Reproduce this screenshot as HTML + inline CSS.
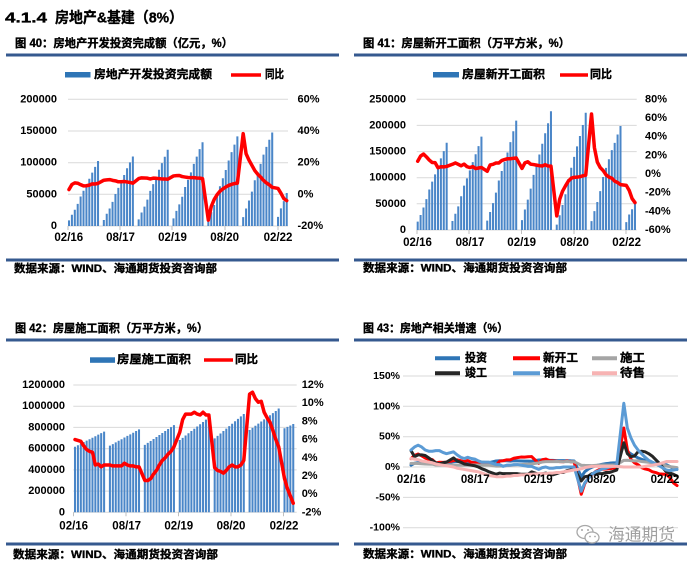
<!DOCTYPE html>
<html><head><meta charset="utf-8">
<style>
html,body{margin:0;padding:0;background:#fff;overflow:hidden;}
svg{display:block;}
text{font-family:"Liberation Sans","Noto Sans CJK SC",sans-serif;font-weight:bold;fill:#000;dominant-baseline:central;}
.b{stroke:#000;stroke-width:0.35px;}
.ax{font-size:11px;}
.ax4{font-size:10.5px;}
.xl{font-size:11.5px;text-anchor:middle;}
.e{text-anchor:end;}
</style></head><body>
<svg width="697" height="571" viewBox="0 0 697 571" xmlns="http://www.w3.org/2000/svg">
<rect width="697" height="571" fill="#fff"/>

<!-- header -->
<text x="5" y="18" font-size="15" textLength="42" lengthAdjust="spacingAndGlyphs" class="b">4.1.4</text>
<text x="55" y="18" font-size="15" textLength="128" lengthAdjust="spacingAndGlyphs" class="b">房地产&amp;基建（8%）</text>

<!-- subtitles -->
<text x="15" y="44" font-size="11.5" textLength="218" lengthAdjust="spacingAndGlyphs" class="b">图 40：房地产开发投资完成额（亿元，%）</text>
<text x="363" y="44" font-size="11.5" textLength="207" lengthAdjust="spacingAndGlyphs" class="b">图 41：房屋新开工面积（万平方米，%）</text>
<text x="15" y="329" font-size="11.5" textLength="193" lengthAdjust="spacingAndGlyphs" class="b">图 42：房屋施工面积（万平方米，%）</text>
<text x="363" y="329" font-size="11.5" textLength="145" lengthAdjust="spacingAndGlyphs" class="b">图 43：房地产相关增速（%）</text>

<!-- rules -->
<g fill="#35598f">
<rect x="6" y="53.5" width="333" height="3"/>
<rect x="354" y="53.5" width="333" height="3"/>
<rect x="6" y="258.5" width="333" height="3"/>
<rect x="354" y="258.5" width="333" height="3"/>
<rect x="6" y="338.5" width="333" height="3"/>
<rect x="354" y="338.5" width="333" height="3"/>
<rect x="6" y="542.5" width="333" height="3"/>
<rect x="354" y="542.5" width="333" height="3"/>
</g>

<!-- sources -->
<text x="14" y="269" font-size="11" textLength="203" lengthAdjust="spacingAndGlyphs" class="b">数据来源：WIND、海通期货投资咨询部</text>
<text x="363" y="268.5" font-size="11" textLength="204" lengthAdjust="spacingAndGlyphs" class="b">数据来源：WIND、海通期货投资咨询部</text>
<text x="13" y="555" font-size="11" textLength="205" lengthAdjust="spacingAndGlyphs" class="b">数据来源：WIND、海通期货投资咨询部</text>
<text x="363" y="554.5" font-size="11" textLength="204" lengthAdjust="spacingAndGlyphs" class="b">数据来源：WIND、海通期货投资咨询部</text>

<!-- gridlines -->
<g stroke="#d9d9d9" stroke-width="1">
<line x1="68" x2="288" y1="99.3" y2="99.3"/><line x1="68" x2="288" y1="131" y2="131"/><line x1="68" x2="288" y1="162.7" y2="162.7"/><line x1="68" x2="288" y1="194.3" y2="194.3"/><line x1="68" x2="288" y1="226" y2="226"/>
<line x1="416.7" x2="636.7" y1="99.3" y2="99.3"/><line x1="416.7" x2="636.7" y1="125.4" y2="125.4"/><line x1="416.7" x2="636.7" y1="151.6" y2="151.6"/><line x1="416.7" x2="636.7" y1="177.7" y2="177.7"/><line x1="416.7" x2="636.7" y1="203.8" y2="203.8"/><line x1="416.7" x2="636.7" y1="230" y2="230"/>
<line x1="73.3" x2="296.7" y1="385" y2="385"/><line x1="73.3" x2="296.7" y1="406.2" y2="406.2"/><line x1="73.3" x2="296.7" y1="427.4" y2="427.4"/><line x1="73.3" x2="296.7" y1="448.7" y2="448.7"/><line x1="73.3" x2="296.7" y1="469.9" y2="469.9"/><line x1="73.3" x2="296.7" y1="491.1" y2="491.1"/><line x1="73.3" x2="296.7" y1="512.3" y2="512.3"/>
<line x1="403" x2="678" y1="376" y2="376"/><line x1="403" x2="678" y1="406.3" y2="406.3"/><line x1="403" x2="678" y1="436.7" y2="436.7"/><line x1="403" x2="678" y1="467" y2="467"/><line x1="403" x2="678" y1="497.4" y2="497.4"/><line x1="403" x2="678" y1="527.7" y2="527.7"/>
</g>
<g stroke="#bfbfbf" stroke-width="1">
<line x1="68" x2="68" y1="226" y2="230"/><line x1="120" x2="120" y1="226" y2="230"/><line x1="172" x2="172" y1="226" y2="230"/><line x1="225" x2="225" y1="226" y2="230"/><line x1="278" x2="278" y1="226" y2="230"/>
<line x1="417" x2="417" y1="230" y2="234"/><line x1="469" x2="469" y1="230" y2="234"/><line x1="521.5" x2="521.5" y1="230" y2="234"/><line x1="574" x2="574" y1="230" y2="234"/><line x1="626" x2="626" y1="230" y2="234"/>
<line x1="73.5" x2="73.5" y1="512.3" y2="516.3"/><line x1="126" x2="126" y1="512.3" y2="516.3"/><line x1="178.5" x2="178.5" y1="512.3" y2="516.3"/><line x1="231" x2="231" y1="512.3" y2="516.3"/><line x1="283.5" x2="283.5" y1="512.3" y2="516.3"/>
</g>

<!-- Chart 1 bars -->
<path fill="#4a86c8" transform="translate(69,226) scale(2.903,-0.6334)" d="M-.35 0v8.8h.7V0zm1 0v17.7h.7V0zm1 0v25.6h.7V0zm1 0v34.9h.7V0zm1 0v46.6h.7V0zm1 0v55.6h.7V0zm1 0v65.1h.7V0zm1 0v74.6h.7V0zm1 0v84.3h.7V0zm1 0v93.4h.7V0zm1 0v102.6h.7V0zm2 0
v9.5h.7V0zm1 0v19.3h.7V0zm1 0v27.7h.7V0zm1 0v38h.7V0zm1 0v50.6h.7V0zm1 0v60.2h.7V0zm1 0v70.7h.7V0zm1 0v80.6h.7V0zm1 0v91.1h.7V0zm1 0v100.4h.7V0zm1 0v109.8h.7V0zm2 0
v10.4h.7V0zm1 0v21.3h.7V0zm1 0v30.6h.7V0zm1 0v41.7h.7V0zm1 0v55.5h.7V0zm1 0v66.1h.7V0zm1 0v77.7h.7V0zm1 0v88.9h.7V0zm1 0v99.3h.7V0zm1 0v109.4h.7V0zm1 0v120.3h.7V0zm2 0
v12.1h.7V0zm1 0v23.8h.7V0zm1 0v34.2h.7V0zm1 0v46.1h.7V0zm1 0v61.6h.7V0zm1 0v72.8h.7V0zm1 0v84.6h.7V0zm1 0v98h.7V0zm1 0v109.6h.7V0zm1 0v121.3h.7V0zm1 0v132.2h.7V0zm2 0
v10.1h.7V0zm1 0v22h.7V0zm1 0v33.1h.7V0zm1 0v45.9h.7V0zm1 0v62.8h.7V0zm1 0v75.3h.7V0zm1 0v88.5h.7V0zm1 0v103.5h.7V0zm1 0v116.6h.7V0zm1 0v128.5h.7V0zm1 0v141.4h.7V0zm2 0
v14h.7V0zm1 0v27.6h.7V0zm1 0v40.2h.7V0zm1 0v54.3h.7V0zm1 0v72.2h.7V0zm1 0v84.9h.7V0zm1 0v98.1h.7V0zm1 0v112.6h.7V0zm1 0v124.9h.7V0zm1 0v136.2h.7V0zm1 0v147.6h.7V0zm2 0
v14.5h.7V0zm1 0v27.8h.7V0zm1 0v39.2h.7V0zm1 0v52.1h.7V0z"/>

<!-- Chart 2 bars -->
<path fill="#4a86c8" transform="translate(417.7,230) scale(2.897,-0.5226)" d="M-.35 0v16h.7V0zm1 0v28.8h.7V0zm1 0v43.1h.7V0zm1 0v59.1h.7V0zm1 0v77.4h.7V0zm1 0v92.5h.7V0zm1 0v106.4h.7V0zm1 0v120.1h.7V0zm1 0v137h.7V0zm1 0v150.9h.7V0zm1 0v166.9h.7V0zm2 0
v17.2h.7V0zm1 0v31.1h.7V0zm1 0v45.3h.7V0zm1 0v64.7h.7V0zm1 0v84.9h.7V0zm1 0v98.8h.7V0zm1 0v114.1h.7V0zm1 0v129.9h.7V0zm1 0v145h.7V0zm1 0v160.4h.7V0zm1 0v178.7h.7V0zm2 0
v18h.7V0zm1 0v34.5h.7V0zm1 0v51.5h.7V0zm1 0v71.5h.7V0zm1 0v94.7h.7V0zm1 0v113h.7V0zm1 0v130.4h.7V0zm1 0v148.4h.7V0zm1 0v168.1h.7V0zm1 0v188.9h.7V0zm1 0v209.3h.7V0zm2 0
v18.8h.7V0zm1 0v39.2h.7V0zm1 0v58.2h.7V0zm1 0v79.1h.7V0zm1 0v105.5h.7V0zm1 0v123.2h.7V0zm1 0v144.4h.7V0zm1 0v165h.7V0zm1 0v185.1h.7V0zm1 0v204.2h.7V0zm1 0v227.2h.7V0zm2 0
v10.4h.7V0zm1 0v28.2h.7V0zm1 0v47.8h.7V0zm1 0v68.5h.7V0zm1 0v97.5h.7V0zm1 0v119.2h.7V0zm1 0v139.9h.7V0zm1 0v160.1h.7V0zm1 0v179.8h.7V0zm1 0v201h.7V0zm1 0v224.4h.7V0zm2 0
v17.1h.7V0zm1 0v36.2h.7V0zm1 0v53.5h.7V0zm1 0v74.3h.7V0zm1 0v101.3h.7V0zm1 0v118.9h.7V0zm1 0v135.5h.7V0zm1 0v152.9h.7V0zm1 0v166.7h.7V0zm1 0v182.8h.7V0zm1 0v198.9h.7V0zm2 0
v15h.7V0zm1 0v29.6h.7V0zm1 0v39.7h.7V0zm1 0v51.6h.7V0z"/>

<!-- Chart 3 bars -->
<path fill="#4a86c8" transform="translate(75,512.3) scale(2.91,-0.1061)" d="M-.35 0v618h.7V0zm1 0v632h.7V0zm1 0v646h.7V0zm1 0v661h.7V0zm1 0v675h.7V0zm1 0v689h.7V0zm1 0v703h.7V0zm1 0v717h.7V0zm1 0v732h.7V0zm1 0v746h.7V0zm1 0v760h.7V0zm2 0
v628h.7V0zm1 0v643h.7V0zm1 0v659h.7V0zm1 0v674h.7V0zm1 0v689h.7V0zm1 0v705h.7V0zm1 0v720h.7V0zm1 0v735h.7V0zm1 0v750h.7V0zm1 0v766h.7V0zm1 0v781h.7V0zm2 0
v635h.7V0zm1 0v654h.7V0zm1 0v672h.7V0zm1 0v691h.7V0zm1 0v710h.7V0zm1 0v729h.7V0zm1 0v747h.7V0zm1 0v766h.7V0zm1 0v785h.7V0zm1 0v803h.7V0zm1 0v822h.7V0zm2 0
v681h.7V0zm1 0v702h.7V0zm1 0v724h.7V0zm1 0v745h.7V0zm1 0v766h.7V0zm1 0v788h.7V0zm1 0v809h.7V0zm1 0v830h.7V0zm1 0v851h.7V0zm1 0v873h.7V0zm1 0v894h.7V0zm2 0
v697h.7V0zm1 0v720h.7V0zm1 0v743h.7V0zm1 0v766h.7V0zm1 0v789h.7V0zm1 0v812h.7V0zm1 0v835h.7V0zm1 0v858h.7V0zm1 0v881h.7V0zm1 0v904h.7V0zm1 0v927h.7V0zm2 0
v776h.7V0zm1 0v796h.7V0zm1 0v816h.7V0zm1 0v836h.7V0zm1 0v856h.7V0zm1 0v876h.7V0zm1 0v895h.7V0zm1 0v915h.7V0zm1 0v935h.7V0zm1 0v955h.7V0zm1 0v978h.7V0zm2 0
v792h.7V0zm1 0v805h.7V0zm1 0v818h.7V0zm1 0v832h.7V0z"/>

<!-- Chart 1 line -->
<path fill="none" stroke="#ff0000" stroke-width="3.5" stroke-linejoin="round" stroke-linecap="round" vector-effect="non-scaling-stroke" transform="translate(69,194.3) scale(2.903,-1.5835)" d="M0 3L1 6.2L2 7.2L3 7L4 6.1L5 5.3L6 5.4L7 5.8L8 6.6L9 6.5L10 6.9L12 8.9L13 9.1L14 9.3L15 8.8L16 8.5L17 7.9L18 7.9L19 8.1L20 7.8L21 7.5L22 7L24 9.9L25 10.4L26 10.3L27 10.2L28 9.7L29 10.2L30 10.1L31 9.9L32 9.7L33 9.7L34 9.5L36 11.6L37 11.8L38 11.9L39 11.2L40 10.9L41 10.6L42 10.5L43 10.5L44 10.3L45 10.2L46 9.9L48 -16.3L49 -7.7L50 -3.3L51 -0.3L52 1.9L53 3.4L54 4.6L55 5.6L56 6.3L57 6.8L58 7L60 38.3L61 25.6L62 21.6L63 18.3L64 15L65 12.7L66 10.9L67 8.8L68 7.2L69 6L70 4.4L72 3.7L73 0.7L74 -2.7L75 -4"/>

<!-- Chart 2 line -->
<path fill="none" stroke="#ff0000" stroke-width="3.5" stroke-linejoin="round" stroke-linecap="round" vector-effect="non-scaling-stroke" transform="translate(417.7,174) scale(2.897,-0.9336)" d="M0 13.7L1 19.2L2 21.4L3 18.4L4 14.9L5 12.3L6 12.2L7 6.7L8 7.8L9 7.6L10 8.1L12 10.4L13 11.9L14 10.4L15 8.8L16 10.6L17 7.9L18 6.9L19 7.9L20 5.8L21 6.4L22 7L24 2.9L25 9.7L26 10.4L27 11.8L28 11.8L29 14.4L30 15.5L31 16.4L32 16.3L33 16.8L34 17.2L36 6L37 11.9L38 13.1L39 10.5L40 10.1L41 9.5L42 8.9L43 8.6L44 10L45 8.6L46 8.5L48 -44.9L49 -27.2L50 -18.4L51 -12.8L52 -7.6L53 -4.5L54 -3.6L55 -3.4L56 -2.9L57 -1.9L58 -1.2L60 64.3L61 28.2L62 12.8L63 6.9L64 3.8L65 -0.9L66 -3.2L67 -4.5L68 -7.7L69 -9.1L70 -11.4L72 -12.2L73 -17.5L74 -26.3L75 -30.6"/>

<!-- Chart 3 line -->
<path fill="none" stroke="#ff0000" stroke-width="3.5" stroke-linejoin="round" stroke-linecap="round" vector-effect="non-scaling-stroke" transform="translate(75,494.1) scale(2.91,-9.095)" d="M0 6L1 5.9L2 5.8L3 5.3L4 4.9L5 4.7L6 4.6L7 3.2L8 3.3L9 3L10 3.2L12 3.2L13 3.1L14 3.1L15 3.1L16 3.1L17 3.4L18 3.2L19 3.1L20 3.1L21 3L22 3L24 1.5L25 1.5L26 1.7L27 2.2L28 2.6L29 3.2L30 3.7L31 4L32 4.4L33 4.7L34 5.2L36 6.8L37 8.2L38 8.8L39 8.8L40 8.8L41 9L42 8.8L43 8.7L44 9L45 8.7L46 8.7L48 2.9L49 2.6L50 2.5L51 2.3L52 2.6L53 3L54 3.2L55 3L56 3L57 3.2L58 3.7L60 11L61 11.2L62 10.5L63 10.1L64 10.2L65 9L66 8.4L67 7.9L68 7L69 6L70 5.2L72 1.7L73 0.6L74 -0.2L75 -1"/>

<!-- Chart 4 lines -->
<g fill="none" stroke-width="3" stroke-linejoin="round" stroke-linecap="round">
<path stroke="#2e75b6" vector-effect="non-scaling-stroke" transform="translate(411,467) scale(3.547,-0.6068)" d="M0 3L1 6.2L2 7.2L3 7L4 6.1L5 5.3L6 5.4L7 5.8L8 6.6L9 6.5L10 6.9L12 8.9L13 9.1L14 9.3L15 8.8L16 8.5L17 7.9L18 7.9L19 8.1L20 7.8L21 7.5L22 7L24 9.9L25 10.4L26 10.3L27 10.2L28 9.7L29 10.2L30 10.1L31 9.9L32 9.7L33 9.7L34 9.5L36 11.6L37 11.8L38 11.9L39 11.2L40 10.9L41 10.6L42 10.5L43 10.5L44 10.3L45 10.2L46 9.9L48 -16.3L49 -7.7L50 -3.3L51 -0.3L52 1.9L53 3.4L54 4.6L55 5.6L56 6.3L57 6.8L58 7L60 38.3L61 25.6L62 21.6L63 18.3L64 15L65 12.7L66 10.9L67 8.8L68 7.2L69 6L70 4.4L72 3.7L73 0.7L74 -2.7L75 -4"/>
<path stroke="#ff0000" vector-effect="non-scaling-stroke" transform="translate(411,467) scale(3.547,-0.6068)" d="M0 13.7L1 19.2L2 21.4L3 18.4L4 14.9L5 12.3L6 12.2L7 6.7L8 7.8L9 7.6L10 8.1L12 10.4L13 11.9L14 10.4L15 8.8L16 10.6L17 7.9L18 6.9L19 7.9L20 5.8L21 6.4L22 7L24 2.9L25 9.7L26 10.4L27 11.8L28 11.8L29 14.4L30 15.5L31 16.4L32 16.3L33 16.8L34 17.2L36 6L37 11.9L38 13.1L39 10.5L40 10.1L41 9.5L42 8.9L43 8.6L44 10L45 8.6L46 8.5L48 -44.9L49 -27.2L50 -18.4L51 -12.8L52 -7.6L53 -4.5L54 -3.6L55 -3.4L56 -2.9L57 -1.9L58 -1.2L60 64.3L61 28.2L62 12.8L63 6.9L64 3.8L65 -0.9L66 -3.2L67 -4.5L68 -7.7L69 -9.1L70 -11.4L72 -12.2L73 -17.5L74 -26.3L75 -30.6"/>
<path stroke="#a5a5a5" vector-effect="non-scaling-stroke" transform="translate(411,467) scale(3.547,-0.6068)" d="M0 6L1 5.9L2 5.8L3 5.3L4 4.9L5 4.7L6 4.6L7 3.2L8 3.3L9 3L10 3.2L12 3.2L13 3.1L14 3.1L15 3.1L16 3.1L17 3.4L18 3.2L19 3.1L20 3.1L21 3L22 3L24 1.5L25 1.5L26 1.7L27 2.2L28 2.6L29 3.2L30 3.7L31 4L32 4.4L33 4.7L34 5.2L36 6.8L37 8.2L38 8.8L39 8.8L40 8.8L41 9L42 8.8L43 8.7L44 9L45 8.7L46 8.7L48 2.9L49 2.6L50 2.5L51 2.3L52 2.6L53 3L54 3.2L55 3L56 3L57 3.2L58 3.7L60 11L61 11.2L62 10.5L63 10.1L64 10.2L65 9L66 8.4L67 7.9L68 7L69 6L70 5.2L72 1.7L73 0.6L74 -0.2L75 -1"/>
<path stroke="#262626" vector-effect="non-scaling-stroke" transform="translate(411,467) scale(3.547,-0.6068)" d="M0 27L1 17L2 20L3 20L4 19L5 15L6 11L7 7L8 5L9 7L10 8L12 15L13 10L14 8L15 5L16 4L17 3L18 2L19 0L20 -3L21 -5L22 -8L24 -12L25 -10L26 -11L27 -11L28 -11L29 -11L30 -11L31 -12L32 -12L33 -12L34 -8L36 -12L37 -11L38 -10L39 -12L40 -13L41 -11L42 -9L43 -9L44 -6L45 -5L46 -3L48 -23L49 -16L50 -15L51 -11L52 -11L53 -11L54 -11L55 -9L56 -9L57 -7L58 -5L60 40L61 22L62 17L63 18L64 25L65 26L66 25L67 22L68 18L69 12L70 6L72 -8L73 -10L74 -12L75 -15"/>
<path stroke="#5b9bd5" vector-effect="non-scaling-stroke" transform="translate(411,467) scale(3.547,-0.6068)" d="M0 28L1 33L2 36L3 33L4 28L5 26L6 26L7 27L8 27L9 24L10 22L12 25L13 20L14 16L15 14L16 16L17 14L18 13L19 10L20 8L21 8L22 8L24 4L25 4L26 1L27 3L28 3L29 4L30 4L31 3L32 2L33 1L34 1L36 -4L37 -1L38 0L39 -2L40 -2L41 -1L42 -1L43 0L44 0L45 0L46 0L48 -40L49 -26L50 -19L51 -12L52 -8L53 -6L54 -3L55 -2L56 0L57 1L58 3L60 105L61 64L62 48L63 36L64 28L65 22L66 16L67 11L68 8L69 5L70 2L72 -5L73 -6L74 -5L75 -4"/>
<path stroke="#f7b3b3" vector-effect="non-scaling-stroke" transform="translate(411,467) scale(3.547,-0.6068)" d="M0 14L1 13L2 12L3 10L4 9L5 8L6 7L7 5L8 4L9 3L10 2L12 0L13 -2L14 -3L15 -4L16 -5L17 -6L18 -7L19 -8L20 -10L21 -12L22 -14L24 -16L25 -16L26 -16L27 -15L28 -15L29 -14L30 -14L31 -13L32 -13L33 -12L34 -12L36 -11L37 -11L38 -11L39 -10L40 -10L41 -9L42 -9L43 -8L44 -7L45 -6L46 -5L48 -3L49 -1L50 0L51 1L52 1L53 1L54 1L55 1L56 1L57 1L58 1L60 0L61 0L62 0L63 0L64 0L65 0L66 1L67 2L68 3L69 4L70 5L72 9L73 9L74 9L75 9"/>
</g>

<!-- Legends -->
<rect x="65" y="72" width="25.5" height="5.5" fill="#2e75b6"/>
<text x="94" y="75" font-size="11.5" textLength="118" lengthAdjust="spacingAndGlyphs" class="b">房地产开发投资完成额</text>
<line x1="231" x2="261" y1="75" y2="75" stroke="#ff0000" stroke-width="3.5"/>
<text x="265" y="75" font-size="11.5" textLength="19" lengthAdjust="spacingAndGlyphs" class="b">同比</text>

<rect x="433" y="72" width="26" height="5.5" fill="#2e75b6"/>
<text x="462" y="75" font-size="11.5" textLength="83" lengthAdjust="spacingAndGlyphs" class="b">房屋新开工面积</text>
<line x1="560" x2="588" y1="75" y2="75" stroke="#ff0000" stroke-width="3.5"/>
<text x="590" y="75" font-size="11.5" textLength="22" lengthAdjust="spacingAndGlyphs" class="b">同比</text>

<rect x="90" y="357.3" width="25" height="5.5" fill="#2e75b6"/>
<text x="117" y="360" font-size="11.5" textLength="74" lengthAdjust="spacingAndGlyphs" class="b">房屋施工面积</text>
<line x1="204" x2="233" y1="360" y2="360" stroke="#ff0000" stroke-width="3.5"/>
<text x="235" y="360" font-size="11.5" textLength="23" lengthAdjust="spacingAndGlyphs" class="b">同比</text>

<g stroke-width="4">
<line x1="435" x2="460" y1="358.3" y2="358.3" stroke="#2e75b6"/>
<line x1="513" x2="540" y1="358.3" y2="358.3" stroke="#ff0000"/>
<line x1="592" x2="617" y1="358.3" y2="358.3" stroke="#a5a5a5"/>
<line x1="435" x2="460" y1="373.3" y2="373.3" stroke="#262626"/>
<line x1="513" x2="540" y1="373.3" y2="373.3" stroke="#5b9bd5"/>
<line x1="592" x2="617" y1="373.3" y2="373.3" stroke="#f7b3b3"/>
</g>
<text x="465" y="358.3" font-size="11.5" textLength="22" lengthAdjust="spacingAndGlyphs" class="b">投资</text>
<text x="543" y="358.3" font-size="11.5" textLength="35" lengthAdjust="spacingAndGlyphs" class="b">新开工</text>
<text x="620" y="358.3" font-size="11.5" textLength="25" lengthAdjust="spacingAndGlyphs" class="b">施工</text>
<text x="465" y="373.3" font-size="11.5" textLength="22" lengthAdjust="spacingAndGlyphs" class="b">竣工</text>
<text x="543" y="373.3" font-size="11.5" textLength="24" lengthAdjust="spacingAndGlyphs" class="b">销售</text>
<text x="620" y="373.3" font-size="11.5" textLength="25" lengthAdjust="spacingAndGlyphs" class="b">待售</text>

<!-- Chart 1 axis labels -->
<text x="57" y="99.3" class="ax e">200000</text>
<text x="57" y="131" class="ax e">150000</text>
<text x="57" y="162.7" class="ax e">100000</text>
<text x="57" y="194.3" class="ax e">50000</text>
<text x="57" y="226" class="ax e">0</text>
<text x="297.5" y="99.3" class="ax">60%</text>
<text x="297.5" y="131" class="ax">40%</text>
<text x="297.5" y="162.7" class="ax">20%</text>
<text x="297.5" y="194.3" class="ax">0%</text>
<text x="297.5" y="226" class="ax">-20%</text>
<text x="68.8" y="238" class="xl">02/16</text>
<text x="120.5" y="238" class="xl">08/17</text>
<text x="172.5" y="238" class="xl">02/19</text>
<text x="224.7" y="238" class="xl">08/20</text>
<text x="278" y="238" class="xl">02/22</text>

<!-- Chart 2 axis labels -->
<text x="406" y="99.3" class="ax e">250000</text>
<text x="406" y="125.4" class="ax e">200000</text>
<text x="406" y="151.6" class="ax e">150000</text>
<text x="406" y="177.7" class="ax e">100000</text>
<text x="406" y="203.8" class="ax e">50000</text>
<text x="406" y="230" class="ax e">0</text>
<text x="645" y="99.3" class="ax">80%</text>
<text x="645" y="118" class="ax">60%</text>
<text x="645" y="136.6" class="ax">40%</text>
<text x="645" y="155.3" class="ax">20%</text>
<text x="645" y="174" class="ax">0%</text>
<text x="645" y="192.7" class="ax">-20%</text>
<text x="645" y="211.3" class="ax">-40%</text>
<text x="645" y="230" class="ax">-60%</text>
<text x="417.5" y="242.8" class="xl">02/16</text>
<text x="470" y="242.8" class="xl">08/17</text>
<text x="521.7" y="242.8" class="xl">02/19</text>
<text x="574.5" y="242.8" class="xl">08/20</text>
<text x="626.7" y="242.8" class="xl">02/22</text>

<!-- Chart 3 axis labels -->
<text x="65" y="385" class="ax e">1200000</text>
<text x="65" y="406.2" class="ax e">1000000</text>
<text x="65" y="427.4" class="ax e">800000</text>
<text x="65" y="448.7" class="ax e">600000</text>
<text x="65" y="469.9" class="ax e">400000</text>
<text x="65" y="491.1" class="ax e">200000</text>
<text x="65" y="512.3" class="ax e">0</text>
<text x="301.7" y="385" class="ax">12%</text>
<text x="301.7" y="403.2" class="ax">10%</text>
<text x="301.7" y="421.4" class="ax">8%</text>
<text x="301.7" y="439.6" class="ax">6%</text>
<text x="301.7" y="457.8" class="ax">4%</text>
<text x="301.7" y="476" class="ax">2%</text>
<text x="301.7" y="494.1" class="ax">0%</text>
<text x="301.7" y="512.3" class="ax">-2%</text>
<text x="73.7" y="526.7" class="xl">02/16</text>
<text x="126.7" y="526.7" class="xl">08/17</text>
<text x="178.8" y="526.7" class="xl">02/19</text>
<text x="231" y="526.7" class="xl">08/20</text>
<text x="284" y="526.7" class="xl">02/22</text>

<!-- Chart 4 axis labels -->
<text x="400" y="376" class="ax4 e">150%</text>
<text x="400" y="406.3" class="ax4 e">100%</text>
<text x="400" y="436.7" class="ax4 e">50%</text>
<text x="400" y="467" class="ax4 e">0%</text>
<text x="400" y="497.4" class="ax4 e">-50%</text>
<text x="400" y="527.7" class="ax4 e">-100%</text>
<text x="411.3" y="480" class="xl">02/16</text>
<text x="475.3" y="480" class="xl">08/17</text>
<text x="538.3" y="480" class="xl">02/19</text>
<text x="601.3" y="480" class="xl">08/20</text>
<text x="665" y="480" class="xl">02/22</text>

<!-- watermark -->
<g fill="#fff" stroke="#a8a8a8" stroke-width="1.3">
<ellipse cx="585" cy="532" rx="8" ry="6.5"/>
<ellipse cx="592" cy="537.5" rx="7" ry="5.5"/>
</g>
<g fill="#a8a8a8">
<circle cx="582" cy="530" r="1"/><circle cx="588" cy="530" r="1"/>
<circle cx="590" cy="536.5" r="0.9"/><circle cx="595" cy="536.5" r="0.9"/>
</g>
<text x="608" y="535" font-size="17" textLength="67" lengthAdjust="spacingAndGlyphs" style="fill:#a0a0a0;font-weight:normal;">海通期货</text>
</svg>
</body></html>
